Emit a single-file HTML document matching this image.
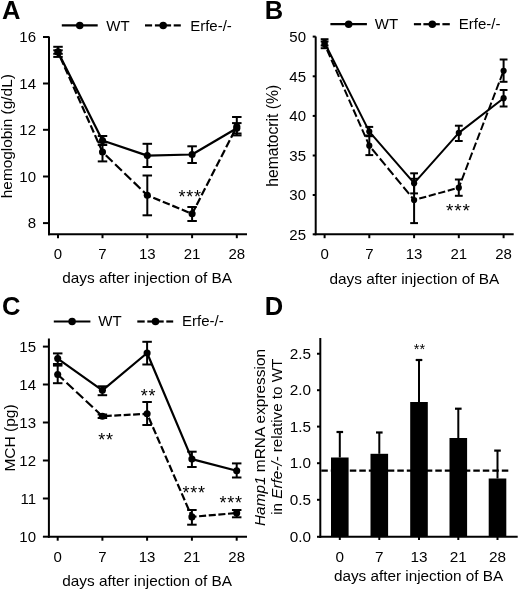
<!DOCTYPE html>
<html><head><meta charset="utf-8"><style>
html,body{margin:0;padding:0;background:#fff;}
svg{display:block;font-family:"Liberation Sans", sans-serif;filter:grayscale(1);}
text{fill:#000;}
</style></head><body>
<svg width="520" height="591" viewBox="0 0 520 591">
<rect width="520" height="591" fill="#fff"/>
<text x="1.9" y="19" font-size="25.5" text-anchor="start" font-weight="bold">A</text>
<line x1="61.8" y1="25.4" x2="97.7" y2="25.4" stroke="#000" stroke-width="2.2" stroke-linecap="butt"/>
<circle cx="79.75" cy="25.4" r="3.75" fill="#000"/>
<text x="106.3" y="30.7" font-size="15" text-anchor="start" font-weight="normal">WT</text>
<line x1="145" y1="25.4" x2="152.1" y2="25.4" stroke="#000" stroke-width="2.2" stroke-linecap="butt"/>
<line x1="154.9" y1="25.4" x2="171.1" y2="25.4" stroke="#000" stroke-width="2.2" stroke-linecap="butt"/>
<line x1="173.7" y1="25.4" x2="180.8" y2="25.4" stroke="#000" stroke-width="2.2" stroke-linecap="butt"/>
<circle cx="163.2" cy="25.4" r="3.75" fill="#000"/>
<text x="190.2" y="30.7" font-size="15" text-anchor="start" font-weight="normal">Erfe-/-</text>
<line x1="49" y1="36.5" x2="49" y2="235.2" stroke="#000" stroke-width="2.0" stroke-linecap="butt"/>
<line x1="48.0" y1="234.2" x2="247" y2="234.2" stroke="#000" stroke-width="2.0" stroke-linecap="butt"/>
<line x1="43" y1="37" x2="49" y2="37" stroke="#000" stroke-width="2.0" stroke-linecap="butt"/>
<text x="36" y="42.2" font-size="15" text-anchor="end" font-weight="normal">16</text>
<line x1="43" y1="83.5" x2="49" y2="83.5" stroke="#000" stroke-width="2.0" stroke-linecap="butt"/>
<text x="36" y="88.7" font-size="15" text-anchor="end" font-weight="normal">14</text>
<line x1="43" y1="129.8" x2="49" y2="129.8" stroke="#000" stroke-width="2.0" stroke-linecap="butt"/>
<text x="36" y="135.0" font-size="15" text-anchor="end" font-weight="normal">12</text>
<line x1="43" y1="176.5" x2="49" y2="176.5" stroke="#000" stroke-width="2.0" stroke-linecap="butt"/>
<text x="36" y="181.7" font-size="15" text-anchor="end" font-weight="normal">10</text>
<line x1="43" y1="223.1" x2="49" y2="223.1" stroke="#000" stroke-width="2.0" stroke-linecap="butt"/>
<text x="36" y="228.29999999999998" font-size="15" text-anchor="end" font-weight="normal">8</text>
<line x1="58" y1="234.2" x2="58" y2="238.2" stroke="#000" stroke-width="2.0" stroke-linecap="butt"/>
<text x="58" y="259.3" font-size="15" text-anchor="middle" font-weight="normal">0</text>
<line x1="102.5" y1="234.2" x2="102.5" y2="238.2" stroke="#000" stroke-width="2.0" stroke-linecap="butt"/>
<text x="102.5" y="259.3" font-size="15" text-anchor="middle" font-weight="normal">7</text>
<line x1="147.3" y1="234.2" x2="147.3" y2="238.2" stroke="#000" stroke-width="2.0" stroke-linecap="butt"/>
<text x="147.3" y="259.3" font-size="15" text-anchor="middle" font-weight="normal">13</text>
<line x1="192.1" y1="234.2" x2="192.1" y2="238.2" stroke="#000" stroke-width="2.0" stroke-linecap="butt"/>
<text x="192.1" y="259.3" font-size="15" text-anchor="middle" font-weight="normal">21</text>
<line x1="236.8" y1="234.2" x2="236.8" y2="238.2" stroke="#000" stroke-width="2.0" stroke-linecap="butt"/>
<text x="236.8" y="259.3" font-size="15" text-anchor="middle" font-weight="normal">28</text>
<text x="147.1" y="283.2" font-size="15.35" text-anchor="middle" font-weight="normal">days after injection of BA</text>
<polyline points="58,51.9 102.5,140.5 147.3,155.6 192.1,154.5 236.8,128.3" fill="none" stroke="#000" stroke-width="2.2" stroke-linejoin="round"/>
<line x1="58" y1="52.1" x2="102.5" y2="152" stroke="#000" stroke-width="2.2" stroke-dasharray="7.752 2.867" stroke-dashoffset="4.707"/>
<line x1="102.5" y1="152" x2="147.3" y2="195.3" stroke="#000" stroke-width="2.2" stroke-dasharray="9.442 3.492" stroke-dashoffset="8.344"/>
<line x1="147.3" y1="195.3" x2="192.1" y2="213.8" stroke="#000" stroke-width="2.2" stroke-dasharray="7.503 2.775" stroke-dashoffset="3.787"/>
<line x1="192.1" y1="213.8" x2="236.8" y2="126.5" stroke="#000" stroke-width="2.2" stroke-dasharray="7.873 2.912" stroke-dashoffset="0.786"/>
<line x1="58" y1="46.8" x2="58" y2="56.9" stroke="#000" stroke-width="2.0" stroke-linecap="butt"/>
<line x1="53.25" y1="46.8" x2="62.75" y2="46.8" stroke="#000" stroke-width="2.0" stroke-linecap="butt"/>
<line x1="53.25" y1="56.9" x2="62.75" y2="56.9" stroke="#000" stroke-width="2.0" stroke-linecap="butt"/>
<line x1="102.5" y1="136" x2="102.5" y2="145" stroke="#000" stroke-width="2.0" stroke-linecap="butt"/>
<line x1="97.75" y1="136" x2="107.25" y2="136" stroke="#000" stroke-width="2.0" stroke-linecap="butt"/>
<line x1="97.75" y1="145" x2="107.25" y2="145" stroke="#000" stroke-width="2.0" stroke-linecap="butt"/>
<line x1="147.3" y1="143.8" x2="147.3" y2="167" stroke="#000" stroke-width="2.0" stroke-linecap="butt"/>
<line x1="142.55" y1="143.8" x2="152.05" y2="143.8" stroke="#000" stroke-width="2.0" stroke-linecap="butt"/>
<line x1="142.55" y1="167" x2="152.05" y2="167" stroke="#000" stroke-width="2.0" stroke-linecap="butt"/>
<line x1="192.1" y1="146.3" x2="192.1" y2="163" stroke="#000" stroke-width="2.0" stroke-linecap="butt"/>
<line x1="187.35" y1="146.3" x2="196.85" y2="146.3" stroke="#000" stroke-width="2.0" stroke-linecap="butt"/>
<line x1="187.35" y1="163" x2="196.85" y2="163" stroke="#000" stroke-width="2.0" stroke-linecap="butt"/>
<line x1="236.8" y1="123.1" x2="236.8" y2="133.5" stroke="#000" stroke-width="2.0" stroke-linecap="butt"/>
<line x1="232.05" y1="123.1" x2="241.55" y2="123.1" stroke="#000" stroke-width="2.0" stroke-linecap="butt"/>
<line x1="232.05" y1="133.5" x2="241.55" y2="133.5" stroke="#000" stroke-width="2.0" stroke-linecap="butt"/>
<line x1="58" y1="50.3" x2="58" y2="53.8" stroke="#000" stroke-width="2.0" stroke-linecap="butt"/>
<line x1="53.25" y1="50.3" x2="62.75" y2="50.3" stroke="#000" stroke-width="2.0" stroke-linecap="butt"/>
<line x1="53.25" y1="53.8" x2="62.75" y2="53.8" stroke="#000" stroke-width="2.0" stroke-linecap="butt"/>
<line x1="102.5" y1="142.5" x2="102.5" y2="161.4" stroke="#000" stroke-width="2.0" stroke-linecap="butt"/>
<line x1="97.75" y1="142.5" x2="107.25" y2="142.5" stroke="#000" stroke-width="2.0" stroke-linecap="butt"/>
<line x1="97.75" y1="161.4" x2="107.25" y2="161.4" stroke="#000" stroke-width="2.0" stroke-linecap="butt"/>
<line x1="147.3" y1="175.5" x2="147.3" y2="215.3" stroke="#000" stroke-width="2.0" stroke-linecap="butt"/>
<line x1="142.55" y1="175.5" x2="152.05" y2="175.5" stroke="#000" stroke-width="2.0" stroke-linecap="butt"/>
<line x1="142.55" y1="215.3" x2="152.05" y2="215.3" stroke="#000" stroke-width="2.0" stroke-linecap="butt"/>
<line x1="192.1" y1="207" x2="192.1" y2="221" stroke="#000" stroke-width="2.0" stroke-linecap="butt"/>
<line x1="187.35" y1="207" x2="196.85" y2="207" stroke="#000" stroke-width="2.0" stroke-linecap="butt"/>
<line x1="187.35" y1="221" x2="196.85" y2="221" stroke="#000" stroke-width="2.0" stroke-linecap="butt"/>
<line x1="236.8" y1="117" x2="236.8" y2="135.4" stroke="#000" stroke-width="2.0" stroke-linecap="butt"/>
<line x1="232.05" y1="117" x2="241.55" y2="117" stroke="#000" stroke-width="2.0" stroke-linecap="butt"/>
<line x1="232.05" y1="135.4" x2="241.55" y2="135.4" stroke="#000" stroke-width="2.0" stroke-linecap="butt"/>
<circle cx="58" cy="51.9" r="3.55" fill="#000"/>
<circle cx="102.5" cy="140.5" r="3.55" fill="#000"/>
<circle cx="147.3" cy="155.6" r="3.55" fill="#000"/>
<circle cx="192.1" cy="154.5" r="3.55" fill="#000"/>
<circle cx="236.8" cy="128.3" r="3.55" fill="#000"/>
<circle cx="58" cy="52.1" r="3.55" fill="#000"/>
<circle cx="102.5" cy="152" r="3.55" fill="#000"/>
<circle cx="147.3" cy="195.3" r="3.55" fill="#000"/>
<circle cx="192.1" cy="213.8" r="3.55" fill="#000"/>
<circle cx="236.8" cy="126.5" r="3.55" fill="#000"/>
<text x="12.5" y="136.2" font-size="15.4" text-anchor="middle" font-weight="normal" transform="rotate(-90 12.5 136.2)">hemoglobin (g/dL)</text>
<text x="178.5" y="203.3" font-size="18" text-anchor="start" font-weight="normal" letter-spacing="0.75">***</text>
<text x="264.8" y="19" font-size="25.5" text-anchor="start" font-weight="bold">B</text>
<line x1="330.4" y1="24.2" x2="366.9" y2="24.2" stroke="#000" stroke-width="2.2" stroke-linecap="butt"/>
<circle cx="348.65" cy="24.2" r="3.75" fill="#000"/>
<text x="374.8" y="28.7" font-size="15" text-anchor="start" font-weight="normal">WT</text>
<line x1="413.9" y1="24.2" x2="421.1" y2="24.2" stroke="#000" stroke-width="2.2" stroke-linecap="butt"/>
<line x1="423.4" y1="24.2" x2="439.8" y2="24.2" stroke="#000" stroke-width="2.2" stroke-linecap="butt"/>
<line x1="442.4" y1="24.2" x2="449.8" y2="24.2" stroke="#000" stroke-width="2.2" stroke-linecap="butt"/>
<circle cx="432.3" cy="24.2" r="3.75" fill="#000"/>
<text x="458.8" y="28.7" font-size="15" text-anchor="start" font-weight="normal">Erfe-/-</text>
<line x1="315.7" y1="36.5" x2="315.7" y2="235.2" stroke="#000" stroke-width="2.0" stroke-linecap="butt"/>
<line x1="314.7" y1="234.2" x2="513.7" y2="234.2" stroke="#000" stroke-width="2.0" stroke-linecap="butt"/>
<line x1="312.7" y1="36.6" x2="315.7" y2="36.6" stroke="#000" stroke-width="2.0" stroke-linecap="butt"/>
<text x="306" y="41.800000000000004" font-size="15" text-anchor="end" font-weight="normal">50</text>
<line x1="312.7" y1="76.3" x2="315.7" y2="76.3" stroke="#000" stroke-width="2.0" stroke-linecap="butt"/>
<text x="306" y="81.5" font-size="15" text-anchor="end" font-weight="normal">45</text>
<line x1="312.7" y1="115.9" x2="315.7" y2="115.9" stroke="#000" stroke-width="2.0" stroke-linecap="butt"/>
<text x="306" y="121.10000000000001" font-size="15" text-anchor="end" font-weight="normal">40</text>
<line x1="312.7" y1="155.5" x2="315.7" y2="155.5" stroke="#000" stroke-width="2.0" stroke-linecap="butt"/>
<text x="306" y="160.7" font-size="15" text-anchor="end" font-weight="normal">35</text>
<line x1="312.7" y1="195" x2="315.7" y2="195" stroke="#000" stroke-width="2.0" stroke-linecap="butt"/>
<text x="306" y="200.2" font-size="15" text-anchor="end" font-weight="normal">30</text>
<line x1="312.7" y1="234.3" x2="315.7" y2="234.3" stroke="#000" stroke-width="2.0" stroke-linecap="butt"/>
<text x="306" y="239.5" font-size="15" text-anchor="end" font-weight="normal">25</text>
<line x1="324.6" y1="234.2" x2="324.6" y2="238.2" stroke="#000" stroke-width="2.0" stroke-linecap="butt"/>
<text x="324.6" y="258.8" font-size="15" text-anchor="middle" font-weight="normal">0</text>
<line x1="369.3" y1="234.2" x2="369.3" y2="238.2" stroke="#000" stroke-width="2.0" stroke-linecap="butt"/>
<text x="369.3" y="258.8" font-size="15" text-anchor="middle" font-weight="normal">7</text>
<line x1="414.1" y1="234.2" x2="414.1" y2="238.2" stroke="#000" stroke-width="2.0" stroke-linecap="butt"/>
<text x="414.1" y="258.8" font-size="15" text-anchor="middle" font-weight="normal">13</text>
<line x1="458.8" y1="234.2" x2="458.8" y2="238.2" stroke="#000" stroke-width="2.0" stroke-linecap="butt"/>
<text x="458.8" y="258.8" font-size="15" text-anchor="middle" font-weight="normal">21</text>
<line x1="503.6" y1="234.2" x2="503.6" y2="238.2" stroke="#000" stroke-width="2.0" stroke-linecap="butt"/>
<text x="503.6" y="258.8" font-size="15" text-anchor="middle" font-weight="normal">28</text>
<text x="414.4" y="283.5" font-size="15.35" text-anchor="middle" font-weight="normal">days after injection of BA</text>
<polyline points="324.6,42.8 369.3,131.6 414.1,183.2 458.8,132.9 503.6,98.2" fill="none" stroke="#000" stroke-width="2.0" stroke-linejoin="round"/>
<line x1="324.6" y1="44.3" x2="369.3" y2="145.7" stroke="#000" stroke-width="2.0" stroke-dasharray="7.938 2.936" stroke-dashoffset="4.863"/>
<line x1="369.3" y1="145.7" x2="414.1" y2="200" stroke="#000" stroke-width="2.0" stroke-dasharray="8.991 3.325" stroke-dashoffset="8.038"/>
<line x1="414.1" y1="200" x2="458.8" y2="187.7" stroke="#000" stroke-width="2.0" stroke-dasharray="7.193 2.660" stroke-dashoffset="4.512"/>
<line x1="458.8" y1="187.7" x2="503.6" y2="70.8" stroke="#000" stroke-width="2.0" stroke-dasharray="7.818 2.891" stroke-dashoffset="2.463"/>
<line x1="324.6" y1="39.2" x2="324.6" y2="45.5" stroke="#000" stroke-width="2.0" stroke-linecap="butt"/>
<line x1="320.70000000000005" y1="39.2" x2="328.5" y2="39.2" stroke="#000" stroke-width="2.0" stroke-linecap="butt"/>
<line x1="320.70000000000005" y1="45.5" x2="328.5" y2="45.5" stroke="#000" stroke-width="2.0" stroke-linecap="butt"/>
<line x1="369.3" y1="126.9" x2="369.3" y2="136.2" stroke="#000" stroke-width="2.0" stroke-linecap="butt"/>
<line x1="365.40000000000003" y1="126.9" x2="373.2" y2="126.9" stroke="#000" stroke-width="2.0" stroke-linecap="butt"/>
<line x1="365.40000000000003" y1="136.2" x2="373.2" y2="136.2" stroke="#000" stroke-width="2.0" stroke-linecap="butt"/>
<line x1="414.1" y1="173.3" x2="414.1" y2="193.4" stroke="#000" stroke-width="2.0" stroke-linecap="butt"/>
<line x1="410.20000000000005" y1="173.3" x2="418.0" y2="173.3" stroke="#000" stroke-width="2.0" stroke-linecap="butt"/>
<line x1="410.20000000000005" y1="193.4" x2="418.0" y2="193.4" stroke="#000" stroke-width="2.0" stroke-linecap="butt"/>
<line x1="458.8" y1="125.7" x2="458.8" y2="141" stroke="#000" stroke-width="2.0" stroke-linecap="butt"/>
<line x1="454.90000000000003" y1="125.7" x2="462.7" y2="125.7" stroke="#000" stroke-width="2.0" stroke-linecap="butt"/>
<line x1="454.90000000000003" y1="141" x2="462.7" y2="141" stroke="#000" stroke-width="2.0" stroke-linecap="butt"/>
<line x1="503.6" y1="90" x2="503.6" y2="106.5" stroke="#000" stroke-width="2.0" stroke-linecap="butt"/>
<line x1="499.70000000000005" y1="90" x2="507.5" y2="90" stroke="#000" stroke-width="2.0" stroke-linecap="butt"/>
<line x1="499.70000000000005" y1="106.5" x2="507.5" y2="106.5" stroke="#000" stroke-width="2.0" stroke-linecap="butt"/>
<line x1="324.6" y1="41.5" x2="324.6" y2="48.2" stroke="#000" stroke-width="2.0" stroke-linecap="butt"/>
<line x1="320.70000000000005" y1="41.5" x2="328.5" y2="41.5" stroke="#000" stroke-width="2.0" stroke-linecap="butt"/>
<line x1="320.70000000000005" y1="48.2" x2="328.5" y2="48.2" stroke="#000" stroke-width="2.0" stroke-linecap="butt"/>
<line x1="369.3" y1="135.5" x2="369.3" y2="155.1" stroke="#000" stroke-width="2.0" stroke-linecap="butt"/>
<line x1="365.40000000000003" y1="135.5" x2="373.2" y2="135.5" stroke="#000" stroke-width="2.0" stroke-linecap="butt"/>
<line x1="365.40000000000003" y1="155.1" x2="373.2" y2="155.1" stroke="#000" stroke-width="2.0" stroke-linecap="butt"/>
<line x1="414.1" y1="178.8" x2="414.1" y2="223.1" stroke="#000" stroke-width="2.0" stroke-linecap="butt"/>
<line x1="410.20000000000005" y1="178.8" x2="418.0" y2="178.8" stroke="#000" stroke-width="2.0" stroke-linecap="butt"/>
<line x1="410.20000000000005" y1="223.1" x2="418.0" y2="223.1" stroke="#000" stroke-width="2.0" stroke-linecap="butt"/>
<line x1="458.8" y1="179.5" x2="458.8" y2="195.8" stroke="#000" stroke-width="2.0" stroke-linecap="butt"/>
<line x1="454.90000000000003" y1="179.5" x2="462.7" y2="179.5" stroke="#000" stroke-width="2.0" stroke-linecap="butt"/>
<line x1="454.90000000000003" y1="195.8" x2="462.7" y2="195.8" stroke="#000" stroke-width="2.0" stroke-linecap="butt"/>
<line x1="503.6" y1="59.5" x2="503.6" y2="81.8" stroke="#000" stroke-width="2.0" stroke-linecap="butt"/>
<line x1="499.70000000000005" y1="59.5" x2="507.5" y2="59.5" stroke="#000" stroke-width="2.0" stroke-linecap="butt"/>
<line x1="499.70000000000005" y1="81.8" x2="507.5" y2="81.8" stroke="#000" stroke-width="2.0" stroke-linecap="butt"/>
<circle cx="324.6" cy="42.8" r="3.1" fill="#000"/>
<circle cx="369.3" cy="131.6" r="3.1" fill="#000"/>
<circle cx="414.1" cy="183.2" r="3.1" fill="#000"/>
<circle cx="458.8" cy="132.9" r="3.1" fill="#000"/>
<circle cx="503.6" cy="98.2" r="3.1" fill="#000"/>
<circle cx="324.6" cy="44.3" r="3.1" fill="#000"/>
<circle cx="369.3" cy="145.7" r="3.1" fill="#000"/>
<circle cx="414.1" cy="200" r="3.1" fill="#000"/>
<circle cx="458.8" cy="187.7" r="3.1" fill="#000"/>
<circle cx="503.6" cy="70.8" r="3.1" fill="#000"/>
<text x="277.6" y="135.8" font-size="15.7" text-anchor="middle" font-weight="normal" transform="rotate(-90 277.6 135.8)">hematocrit (%)</text>
<text x="446" y="217" font-size="19" text-anchor="start" font-weight="normal" letter-spacing="0.8">***</text>
<text x="1.9" y="314.5" font-size="25.5" text-anchor="start" font-weight="bold">C</text>
<line x1="53.8" y1="321.5" x2="90.4" y2="321.5" stroke="#000" stroke-width="2.2" stroke-linecap="butt"/>
<circle cx="72.1" cy="321.5" r="3.75" fill="#000"/>
<text x="98.3" y="325.8" font-size="15" text-anchor="start" font-weight="normal">WT</text>
<line x1="137.3" y1="321.5" x2="144.7" y2="321.5" stroke="#000" stroke-width="2.2" stroke-linecap="butt"/>
<line x1="147.3" y1="321.5" x2="163.7" y2="321.5" stroke="#000" stroke-width="2.2" stroke-linecap="butt"/>
<line x1="166.3" y1="321.5" x2="173.2" y2="321.5" stroke="#000" stroke-width="2.2" stroke-linecap="butt"/>
<circle cx="155.5" cy="321.5" r="3.75" fill="#000"/>
<text x="182.1" y="325.8" font-size="15" text-anchor="start" font-weight="normal">Erfe-/-</text>
<line x1="48.9" y1="338.5" x2="48.9" y2="537.7" stroke="#000" stroke-width="2.0" stroke-linecap="butt"/>
<line x1="47.9" y1="536.7" x2="247" y2="536.7" stroke="#000" stroke-width="2.0" stroke-linecap="butt"/>
<line x1="42.9" y1="346.6" x2="48.9" y2="346.6" stroke="#000" stroke-width="2.0" stroke-linecap="butt"/>
<text x="36" y="351.8" font-size="15" text-anchor="end" font-weight="normal">15</text>
<line x1="42.9" y1="384.5" x2="48.9" y2="384.5" stroke="#000" stroke-width="2.0" stroke-linecap="butt"/>
<text x="36" y="389.7" font-size="15" text-anchor="end" font-weight="normal">14</text>
<line x1="42.9" y1="422.5" x2="48.9" y2="422.5" stroke="#000" stroke-width="2.0" stroke-linecap="butt"/>
<text x="36" y="427.7" font-size="15" text-anchor="end" font-weight="normal">13</text>
<line x1="42.9" y1="460.5" x2="48.9" y2="460.5" stroke="#000" stroke-width="2.0" stroke-linecap="butt"/>
<text x="36" y="465.7" font-size="15" text-anchor="end" font-weight="normal">12</text>
<line x1="42.9" y1="498.5" x2="48.9" y2="498.5" stroke="#000" stroke-width="2.0" stroke-linecap="butt"/>
<text x="36" y="503.7" font-size="15" text-anchor="end" font-weight="normal">11</text>
<line x1="42.9" y1="536.7" x2="48.9" y2="536.7" stroke="#000" stroke-width="2.0" stroke-linecap="butt"/>
<text x="36" y="541.9000000000001" font-size="15" text-anchor="end" font-weight="normal">10</text>
<line x1="57.7" y1="536.7" x2="57.7" y2="540.7" stroke="#000" stroke-width="2.0" stroke-linecap="butt"/>
<text x="57.7" y="561.7" font-size="15" text-anchor="middle" font-weight="normal">0</text>
<line x1="102.4" y1="536.7" x2="102.4" y2="540.7" stroke="#000" stroke-width="2.0" stroke-linecap="butt"/>
<text x="102.4" y="561.7" font-size="15" text-anchor="middle" font-weight="normal">7</text>
<line x1="147.1" y1="536.7" x2="147.1" y2="540.7" stroke="#000" stroke-width="2.0" stroke-linecap="butt"/>
<text x="147.1" y="561.7" font-size="15" text-anchor="middle" font-weight="normal">13</text>
<line x1="191.9" y1="536.7" x2="191.9" y2="540.7" stroke="#000" stroke-width="2.0" stroke-linecap="butt"/>
<text x="191.9" y="561.7" font-size="15" text-anchor="middle" font-weight="normal">21</text>
<line x1="236.7" y1="536.7" x2="236.7" y2="540.7" stroke="#000" stroke-width="2.0" stroke-linecap="butt"/>
<text x="236.7" y="561.7" font-size="15" text-anchor="middle" font-weight="normal">28</text>
<text x="147.1" y="586" font-size="15.35" text-anchor="middle" font-weight="normal">days after injection of BA</text>
<polyline points="57.7,358.6 102.4,390.3 147.1,353 191.9,459.1 236.7,470.8" fill="none" stroke="#000" stroke-width="2.2" stroke-linejoin="round"/>
<line x1="57.7" y1="374.5" x2="102.4" y2="416.2" stroke="#000" stroke-width="2.2" stroke-dasharray="9.614 3.556" stroke-dashoffset="1.094"/>
<line x1="102.4" y1="416.2" x2="147.1" y2="413.8" stroke="#000" stroke-width="2.2" stroke-dasharray="6.872 2.542" stroke-dashoffset="6.910"/>
<line x1="147.1" y1="413.8" x2="191.9" y2="516.9" stroke="#000" stroke-width="2.2" stroke-dasharray="7.522 2.782" stroke-dashoffset="5.942"/>
<line x1="191.9" y1="516.9" x2="236.7" y2="513" stroke="#000" stroke-width="2.2" stroke-dasharray="7.056 2.610" stroke-dashoffset="2.439"/>
<line x1="57.7" y1="353.4" x2="57.7" y2="364" stroke="#000" stroke-width="2.0" stroke-linecap="butt"/>
<line x1="52.95" y1="353.4" x2="62.45" y2="353.4" stroke="#000" stroke-width="2.0" stroke-linecap="butt"/>
<line x1="52.95" y1="364" x2="62.45" y2="364" stroke="#000" stroke-width="2.0" stroke-linecap="butt"/>
<line x1="102.4" y1="386.3" x2="102.4" y2="395.2" stroke="#000" stroke-width="2.0" stroke-linecap="butt"/>
<line x1="97.65" y1="386.3" x2="107.15" y2="386.3" stroke="#000" stroke-width="2.0" stroke-linecap="butt"/>
<line x1="97.65" y1="395.2" x2="107.15" y2="395.2" stroke="#000" stroke-width="2.0" stroke-linecap="butt"/>
<line x1="147.1" y1="341.8" x2="147.1" y2="364.5" stroke="#000" stroke-width="2.0" stroke-linecap="butt"/>
<line x1="142.35" y1="341.8" x2="151.85" y2="341.8" stroke="#000" stroke-width="2.0" stroke-linecap="butt"/>
<line x1="142.35" y1="364.5" x2="151.85" y2="364.5" stroke="#000" stroke-width="2.0" stroke-linecap="butt"/>
<line x1="191.9" y1="451.7" x2="191.9" y2="467" stroke="#000" stroke-width="2.0" stroke-linecap="butt"/>
<line x1="187.15" y1="451.7" x2="196.65" y2="451.7" stroke="#000" stroke-width="2.0" stroke-linecap="butt"/>
<line x1="187.15" y1="467" x2="196.65" y2="467" stroke="#000" stroke-width="2.0" stroke-linecap="butt"/>
<line x1="236.7" y1="463.4" x2="236.7" y2="477.5" stroke="#000" stroke-width="2.0" stroke-linecap="butt"/>
<line x1="231.95" y1="463.4" x2="241.45" y2="463.4" stroke="#000" stroke-width="2.0" stroke-linecap="butt"/>
<line x1="231.95" y1="477.5" x2="241.45" y2="477.5" stroke="#000" stroke-width="2.0" stroke-linecap="butt"/>
<line x1="57.7" y1="365.6" x2="57.7" y2="383.2" stroke="#000" stroke-width="2.0" stroke-linecap="butt"/>
<line x1="52.95" y1="365.6" x2="62.45" y2="365.6" stroke="#000" stroke-width="2.0" stroke-linecap="butt"/>
<line x1="52.95" y1="383.2" x2="62.45" y2="383.2" stroke="#000" stroke-width="2.0" stroke-linecap="butt"/>
<line x1="102.4" y1="414.5" x2="102.4" y2="418" stroke="#000" stroke-width="2.0" stroke-linecap="butt"/>
<line x1="97.65" y1="414.5" x2="107.15" y2="414.5" stroke="#000" stroke-width="2.0" stroke-linecap="butt"/>
<line x1="97.65" y1="418" x2="107.15" y2="418" stroke="#000" stroke-width="2.0" stroke-linecap="butt"/>
<line x1="147.1" y1="402" x2="147.1" y2="425" stroke="#000" stroke-width="2.0" stroke-linecap="butt"/>
<line x1="142.35" y1="402" x2="151.85" y2="402" stroke="#000" stroke-width="2.0" stroke-linecap="butt"/>
<line x1="142.35" y1="425" x2="151.85" y2="425" stroke="#000" stroke-width="2.0" stroke-linecap="butt"/>
<line x1="191.9" y1="510" x2="191.9" y2="524.7" stroke="#000" stroke-width="2.0" stroke-linecap="butt"/>
<line x1="187.15" y1="510" x2="196.65" y2="510" stroke="#000" stroke-width="2.0" stroke-linecap="butt"/>
<line x1="187.15" y1="524.7" x2="196.65" y2="524.7" stroke="#000" stroke-width="2.0" stroke-linecap="butt"/>
<line x1="236.7" y1="510" x2="236.7" y2="517.3" stroke="#000" stroke-width="2.0" stroke-linecap="butt"/>
<line x1="231.95" y1="510" x2="241.45" y2="510" stroke="#000" stroke-width="2.0" stroke-linecap="butt"/>
<line x1="231.95" y1="517.3" x2="241.45" y2="517.3" stroke="#000" stroke-width="2.0" stroke-linecap="butt"/>
<circle cx="57.7" cy="358.6" r="3.55" fill="#000"/>
<circle cx="102.4" cy="390.3" r="3.55" fill="#000"/>
<circle cx="147.1" cy="353" r="3.55" fill="#000"/>
<circle cx="191.9" cy="459.1" r="3.55" fill="#000"/>
<circle cx="236.7" cy="470.8" r="3.55" fill="#000"/>
<circle cx="57.7" cy="374.5" r="3.55" fill="#000"/>
<circle cx="102.4" cy="416.2" r="3.55" fill="#000"/>
<circle cx="147.1" cy="413.8" r="3.55" fill="#000"/>
<circle cx="191.9" cy="516.9" r="3.55" fill="#000"/>
<circle cx="236.7" cy="513" r="3.55" fill="#000"/>
<text x="14.9" y="438" font-size="15.5" text-anchor="middle" font-weight="normal" transform="rotate(-90 14.9 438)">MCH (pg)</text>
<text x="98.3" y="445.8" font-size="18" text-anchor="start" font-weight="normal" letter-spacing="0.75">**</text>
<text x="140.8" y="401.9" font-size="18" text-anchor="start" font-weight="normal" letter-spacing="0.75">**</text>
<text x="182.5" y="499.2" font-size="18" text-anchor="start" font-weight="normal" letter-spacing="0.75">***</text>
<text x="219.5" y="508.6" font-size="18" text-anchor="start" font-weight="normal" letter-spacing="0.75">***</text>
<text x="264.8" y="314.5" font-size="25.5" text-anchor="start" font-weight="bold">D</text>
<line x1="320.3" y1="338" x2="320.3" y2="537.8" stroke="#000" stroke-width="2.0" stroke-linecap="butt"/>
<line x1="319.3" y1="536.8" x2="517.7" y2="536.8" stroke="#000" stroke-width="2.0" stroke-linecap="butt"/>
<line x1="317" y1="353.75" x2="320.3" y2="353.75" stroke="#000" stroke-width="2.0" stroke-linecap="butt"/>
<text x="311" y="358.95" font-size="15.3" text-anchor="end" font-weight="normal">2.5</text>
<line x1="317" y1="390.2" x2="320.3" y2="390.2" stroke="#000" stroke-width="2.0" stroke-linecap="butt"/>
<text x="311" y="395.4" font-size="15.3" text-anchor="end" font-weight="normal">2.0</text>
<line x1="317" y1="426.6" x2="320.3" y2="426.6" stroke="#000" stroke-width="2.0" stroke-linecap="butt"/>
<text x="311" y="431.8" font-size="15.3" text-anchor="end" font-weight="normal">1.5</text>
<line x1="317" y1="463.2" x2="320.3" y2="463.2" stroke="#000" stroke-width="2.0" stroke-linecap="butt"/>
<text x="311" y="468.4" font-size="15.3" text-anchor="end" font-weight="normal">1.0</text>
<line x1="317" y1="499.8" x2="320.3" y2="499.8" stroke="#000" stroke-width="2.0" stroke-linecap="butt"/>
<text x="311" y="505.0" font-size="15.3" text-anchor="end" font-weight="normal">0.5</text>
<line x1="317" y1="536.8" x2="320.3" y2="536.8" stroke="#000" stroke-width="2.0" stroke-linecap="butt"/>
<text x="311" y="542.0" font-size="15.3" text-anchor="end" font-weight="normal">0.0</text>
<rect x="331.0" y="457.5" width="17.6" height="79.29999999999995" fill="#000"/>
<line x1="339.8" y1="432" x2="339.8" y2="457.5" stroke="#000" stroke-width="2.0" stroke-linecap="butt"/>
<line x1="336.5" y1="432" x2="343.1" y2="432" stroke="#000" stroke-width="2.2" stroke-linecap="butt"/>
<rect x="370.5" y="453.8" width="17.6" height="82.99999999999994" fill="#000"/>
<line x1="379.3" y1="432.5" x2="379.3" y2="453.8" stroke="#000" stroke-width="2.0" stroke-linecap="butt"/>
<line x1="376.0" y1="432.5" x2="382.6" y2="432.5" stroke="#000" stroke-width="2.2" stroke-linecap="butt"/>
<rect x="410.2" y="402" width="17.6" height="134.79999999999995" fill="#000"/>
<line x1="419" y1="360" x2="419" y2="402" stroke="#000" stroke-width="2.0" stroke-linecap="butt"/>
<line x1="415.7" y1="360" x2="422.3" y2="360" stroke="#000" stroke-width="2.2" stroke-linecap="butt"/>
<rect x="449.5" y="438" width="17.6" height="98.79999999999995" fill="#000"/>
<line x1="458.3" y1="408.7" x2="458.3" y2="438" stroke="#000" stroke-width="2.0" stroke-linecap="butt"/>
<line x1="455.0" y1="408.7" x2="461.6" y2="408.7" stroke="#000" stroke-width="2.2" stroke-linecap="butt"/>
<rect x="488.7" y="478.5" width="17.6" height="58.299999999999955" fill="#000"/>
<line x1="497.5" y1="450.6" x2="497.5" y2="478.5" stroke="#000" stroke-width="2.0" stroke-linecap="butt"/>
<line x1="494.2" y1="450.6" x2="500.8" y2="450.6" stroke="#000" stroke-width="2.2" stroke-linecap="butt"/>
<line x1="339.8" y1="536.8" x2="339.8" y2="540" stroke="#000" stroke-width="2" stroke-linecap="butt"/>
<text x="339.8" y="562" font-size="15.3" text-anchor="middle" font-weight="normal">0</text>
<line x1="379.3" y1="536.8" x2="379.3" y2="540" stroke="#000" stroke-width="2" stroke-linecap="butt"/>
<text x="379.3" y="562" font-size="15.3" text-anchor="middle" font-weight="normal">7</text>
<line x1="419" y1="536.8" x2="419" y2="540" stroke="#000" stroke-width="2" stroke-linecap="butt"/>
<text x="419" y="562" font-size="15.3" text-anchor="middle" font-weight="normal">13</text>
<line x1="458.3" y1="536.8" x2="458.3" y2="540" stroke="#000" stroke-width="2" stroke-linecap="butt"/>
<text x="458.3" y="562" font-size="15.3" text-anchor="middle" font-weight="normal">21</text>
<line x1="497.5" y1="536.8" x2="497.5" y2="540" stroke="#000" stroke-width="2" stroke-linecap="butt"/>
<text x="497.5" y="562" font-size="15.3" text-anchor="middle" font-weight="normal">28</text>
<line x1="321.3" y1="470.7" x2="510.5" y2="470.7" stroke="#000" stroke-width="2.2" stroke-linecap="butt" stroke-dasharray="6.5 3"/>
<text x="418.5" y="581.3" font-size="15.3" text-anchor="middle" font-weight="normal">days after injection of BA</text>
<text x="413.8" y="354.3" font-size="14.5" text-anchor="start" font-weight="normal">**</text>
<text transform="translate(264.8,437.5) rotate(-90)" font-size="15.4" text-anchor="middle"><tspan font-style="italic">Hamp1</tspan> mRNA expression</text>
<text transform="translate(282.0,436.7) rotate(-90)" font-size="15.2" text-anchor="middle">in <tspan font-style="italic">Erfe-/-</tspan> relative to WT</text>
</svg>
</body></html>
